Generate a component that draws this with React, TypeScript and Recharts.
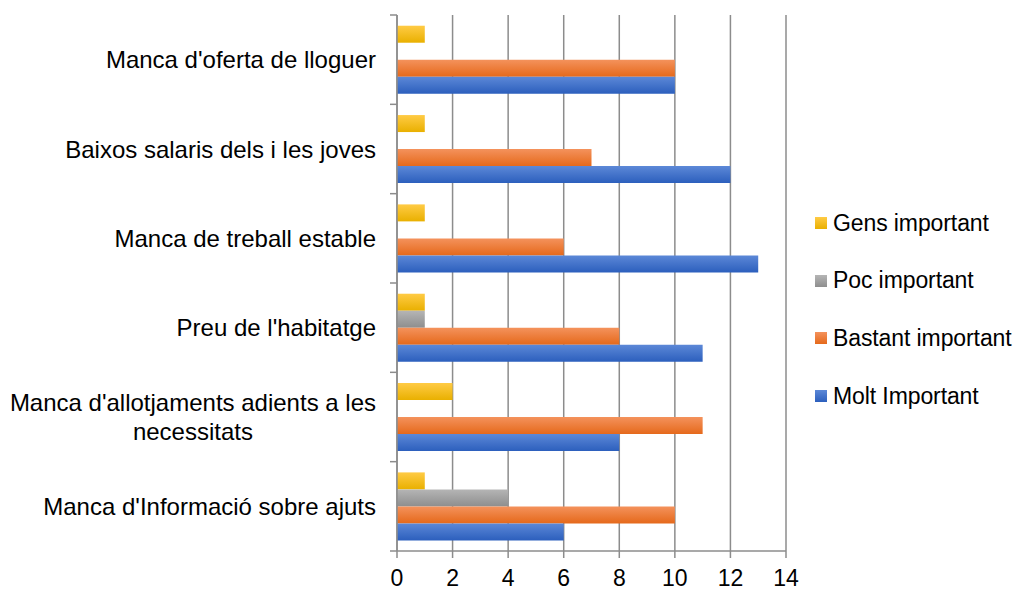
import React from "react"
import { Bar, BarChart, CartesianGrid, XAxis, YAxis } from "recharts"

// Categories top to bottom, as they appear in the reference chart
const categories = [
  "Manca d'oferta de lloguer",
  "Baixos salaris dels i les joves",
  "Manca de treball estable",
  "Preu de l'habitatge",
  "Manca d'allotjaments adients a les necessitats",
  "Manca d'Informació sobre ajuts",
]

const gensImportant = [1, 1, 1, 1, 2, 1]
const pocImportant = [0, 0, 0, 1, 0, 4]
const bastantImportant = [10, 7, 6, 8, 11, 10]
const moltImportant = [10, 12, 13, 11, 8, 6]

const xTicks = [0, 2, 4, 6, 8, 10, 12, 14]

// legend/bar order (top to bottom inside each band)
const series = [
  { key: "gens", name: "Gens important", top: "#FFCB45", bottom: "#E9B000" },
  { key: "poc", name: "Poc important", top: "#B5B5B5", bottom: "#8E8E8E" },
  { key: "bastant", name: "Bastant important", top: "#F4925C", bottom: "#E5691B" },
  { key: "molt", name: "Molt Important", top: "#5C88D7", bottom: "#2C5FBD" },
]

const data = categories.map((label, i) => ({
  label,
  gens: gensImportant[i],
  poc: pocImportant[i],
  bastant: bastantImportant[i],
  molt: moltImportant[i],
}))

const WIDTH = 1015
const HEIGHT = 582
const Y_AXIS_WIDTH = 389
const X_AXIS_HEIGHT = 39
const MARGIN = { top: 7, right: 237, bottom: 0, left: 0 }
const BAND = (HEIGHT - MARGIN.top - MARGIN.bottom - X_AXIS_HEIGHT) / categories.length
const AXIS_COLOR = "#8c8c8c"
const FONT = "Liberation Sans, Arial, sans-serif"
const LABEL_SIZE = 24
const LABEL_MAX = 385

let measureCtx: CanvasRenderingContext2D | null = null
function textWidth(s: string) {
  if (!measureCtx) {
    measureCtx = document.createElement("canvas").getContext("2d")
  }
  if (!measureCtx) return s.length * LABEL_SIZE * 0.5
  measureCtx.font = `${LABEL_SIZE}px "Liberation Sans"`
  return measureCtx.measureText(s).width
}

function wrap(label: string) {
  const words = label.split(" ")
  const lines: string[] = []
  let cur = ""
  for (const w of words) {
    const next = cur ? cur + " " + w : w
    if (cur && textWidth(next) > LABEL_MAX) {
      lines.push(cur)
      cur = w
    } else {
      cur = next
    }
  }
  if (cur) lines.push(cur)
  return lines
}

// category label + tick marks at band boundaries (Excel style)
function CategoryTick(props: any) {
  const { x, y, payload, index } = props
  const lines = wrap(String(payload.value))
  const blockW = Math.max(...lines.map(textWidth))
  const cx = x - blockW / 2
  const lineH = 29
  const startY = y - ((lines.length - 1) * lineH) / 2
  const isLast = index === categories.length - 1
  return (
    <g>
      <line x1={Y_AXIS_WIDTH - 7} x2={Y_AXIS_WIDTH} y1={y - BAND / 2} y2={y - BAND / 2} stroke={AXIS_COLOR} strokeWidth={1.5} />
      {isLast && (
        <line x1={Y_AXIS_WIDTH - 7} x2={Y_AXIS_WIDTH} y1={y + BAND / 2} y2={y + BAND / 2} stroke={AXIS_COLOR} strokeWidth={1.5} />
      )}
      <text textAnchor="middle" fontSize={LABEL_SIZE} fontFamily={FONT} fill="#000">
        {lines.map((line, i) => (
          <tspan key={i} x={cx} y={startY + i * lineH} dy="0.36em">
            {line}
          </tspan>
        ))}
      </text>
    </g>
  )
}

export default function App() {
  return (
    <div style={{ position: "relative", width: WIDTH, height: HEIGHT, fontFamily: FONT }}>
      <BarChart
        width={WIDTH}
        height={HEIGHT}
        data={data}
        layout="vertical"
        margin={MARGIN}
        barCategoryGap="12%"
        barGap={0}
      >
        <defs>
          {series.map((s) => (
            <linearGradient key={s.key} id={`grad-${s.key}`} x1="0" y1="0" x2="0" y2="1">
              <stop offset="0%" stopColor={s.top} />
              <stop offset="100%" stopColor={s.bottom} />
            </linearGradient>
          ))}
        </defs>
        <CartesianGrid horizontal={false} stroke={AXIS_COLOR} strokeWidth={1.5} />
        <XAxis
          type="number"
          domain={[0, 14]}
          ticks={xTicks}
          interval={0}
          height={X_AXIS_HEIGHT}
          stroke={AXIS_COLOR}
          tickSize={7}
          tickMargin={12}
          tick={{ fill: "#000", fontSize: 23, fontFamily: FONT }}
          axisLine={{ stroke: AXIS_COLOR, strokeWidth: 1.5 }}
          tickLine={{ stroke: AXIS_COLOR, strokeWidth: 1.5 }}
        />
        <YAxis
          type="category"
          dataKey="label"
          width={Y_AXIS_WIDTH}
          tickLine={false}
          tickSize={7}
          tickMargin={14}
          interval={0}
          axisLine={{ stroke: AXIS_COLOR, strokeWidth: 1.5 }}
          tick={<CategoryTick />}
        />
        {series.map((s) => (
          <Bar key={s.key} dataKey={s.key} name={s.name} fill={`url(#grad-${s.key})`} isAnimationActive={false} />
        ))}
      </BarChart>
      <div style={{ position: "absolute", left: 807, top: 202, width: 208 }}>
        {series.map((s) => (
          <div key={s.key} style={{ display: "flex", alignItems: "center", height: 26, marginBottom: 31.7 }}>
            <span
              style={{
                flex: "none",
                width: 12,
                height: 12,
                marginRight: 6,
                background: `linear-gradient(${s.top}, ${s.bottom})`,
              }}
            />
            <span style={{ fontSize: 23, letterSpacing: -0.1, color: "#000", whiteSpace: "nowrap" }}>{s.name}</span>
          </div>
        ))}
      </div>
    </div>
  )
}
